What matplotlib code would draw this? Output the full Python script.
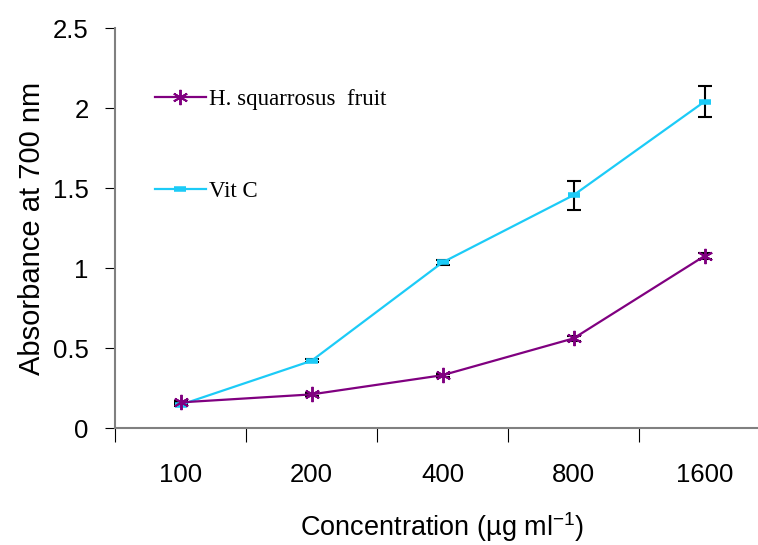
import matplotlib
matplotlib.use("Agg")
import matplotlib.pyplot as plt
import numpy as np

# data
concentrations = ["100", "200", "400", "800", "1600"]
fruit_abs = [0.16, 0.21, 0.33, 0.56, 1.075]
fruit_err = [0.01, 0.01, 0.01, 0.015, 0.02]
vitc_abs = [0.145, 0.42, 1.035, 1.455, 2.04]
vitc_err = [0.01, 0.01, 0.015, 0.09, 0.095]

PURPLE = "#800080"
CYAN = "#1ccbf7"
AXIS = "#808080"

fig = plt.figure(figsize=(7.58, 5.45), dpi=100)
ax = fig.add_axes([115 / 758, 1 - 428 / 545, 655 / 758, 400 / 545])

x = np.arange(len(concentrations))

# error bars (kept out of the legend)
ax.errorbar(x, vitc_abs, yerr=vitc_err, fmt="none", ecolor="black",
            elinewidth=1.5, capsize=5, capthick=1.5, zorder=2)
ax.errorbar(x, fruit_abs, yerr=fruit_err, fmt="none", ecolor="black",
            elinewidth=1.5, capsize=5, capthick=1.5, zorder=2)

ax.plot(x, fruit_abs, color=PURPLE, linewidth=1.6, marker=(6, 2, 0),
        markersize=11, markeredgewidth=1.4, zorder=4, label="H. squarrosus  fruit")
ax.plot(x, vitc_abs, color=CYAN, linewidth=1.6, marker="_",
        markersize=9, markeredgewidth=4, zorder=3, label="Vit C")

ax.set_xlim(-0.5, 4.5)
ax.set_ylim(0, 2.5)
ax.set_yticks([0, 0.5, 1, 1.5, 2, 2.5])
ax.set_yticklabels(["0", "0.5", "1", "1.5", "2", "2.5"])

# category boundaries as major ticks, labels on minor ticks
ax.set_xticks(np.arange(-0.5, 5.0, 1.0))
ax.set_xticklabels([])
ax.set_xticks(x, minor=True)
ax.set_xticklabels(concentrations, minor=True)
ax.tick_params(axis="x", which="major", length=10, direction="out", color="black")
ax.tick_params(axis="x", which="minor", length=0, pad=25, labelsize=18.5)
ax.tick_params(axis="y", length=7, direction="out", color="black", labelsize=18.5, pad=12)

for t in ax.get_xticklabels(minor=True) + ax.get_yticklabels():
    t.set_family("Liberation Sans")

ax.spines[["top", "right"]].set_visible(False)
ax.spines["left"].set_color(AXIS)
ax.spines["bottom"].set_color(AXIS)
ax.spines["left"].set_linewidth(1.5)
ax.spines["bottom"].set_linewidth(1.5)

ax.set_ylabel("Absorbance at 700 nm", fontsize=21, family="Liberation Sans", labelpad=5)
ax.set_xlabel("Concentration (µg ml$^{\\mathregular{-1}}$)", fontsize=19.5,
              family="Liberation Sans", labelpad=17)

leg = ax.legend(loc="upper left", bbox_to_anchor=(0.03, 0.9), frameon=False,
                prop={"family": "Liberation Serif", "size": 16.5},
                labelspacing=3.1, handlelength=2.2, handletextpad=0.15)

plt.savefig("out.png", dpi=100)
plt.close()
